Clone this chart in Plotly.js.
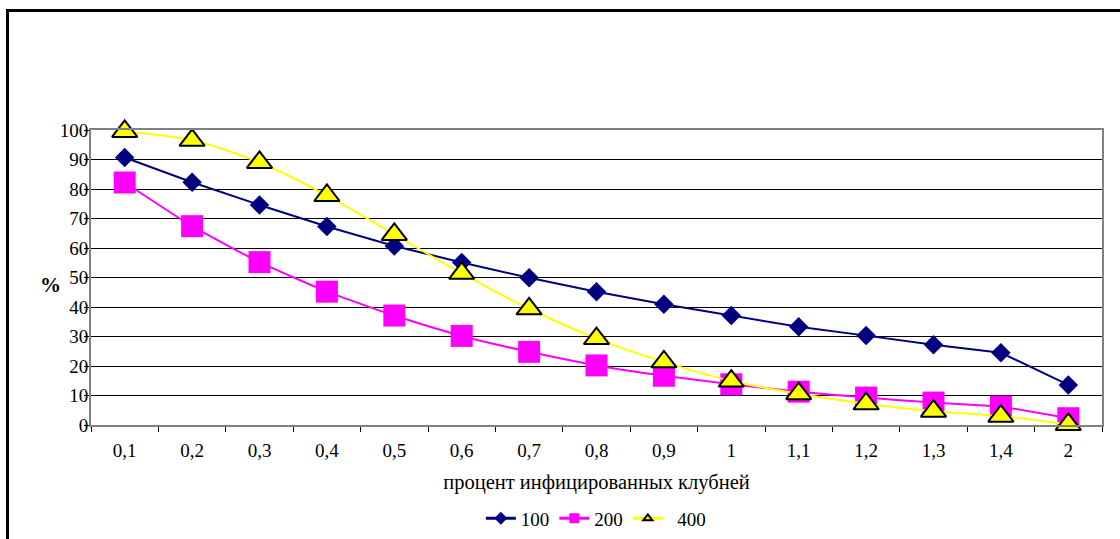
<!DOCTYPE html>
<html>
<head>
<meta charset="utf-8">
<script src="https://cdn.plot.ly/plotly-3.0.1.min.js"></script>
<style>
html,body{margin:0;padding:0;background:#fff;overflow:hidden;}
#wrap{position:relative;width:1120px;height:539px;}
#chart{width:1120px;height:539px;}
#frame{position:absolute;left:6px;top:9px;width:1200px;height:700px;border:3px solid #000;pointer-events:none;box-sizing:border-box;}
</style>
</head>
<body>
<div id="wrap"><div id="chart"></div><div id="frame"></div></div>
<script>
var categories = ['0,1','0,2','0,3','0,4','0,5','0,6','0,7','0,8','0,9','1','1,1','1,2','1,3','1,4','2'];
var series100 = [90.7, 82.3, 74.6, 67.3, 60.7, 55.1, 49.9, 45.2, 40.9, 37.1, 33.3, 30.3, 27.2, 24.5, 13.6];
var series200 = [82.2, 67.4, 55.2, 45.2, 37.1, 30.2, 24.8, 20.2, 16.7, 13.8, 11.3, 9.3, 7.6, 6.2, 2.3];
var series400 = [99.5, 96.5, 89.0, 77.8, 64.6, 51.4, 39.4, 29.3, 21.4, 14.9, 10.6, 7.2, 4.7, 3.0, 0.2];
var seriesNames = ['100', '200', '400'];
var yTicks = [0,10,20,30,40,50,60,70,80,90,100];

var FONT = 'Liberation Serif';

var traces = [
  {x: categories, y: series100, name: seriesNames[0], type: 'scatter', mode: 'lines+markers', cliponaxis: false,
   line: {color: '#000080', width: 2}, marker: {symbol: 'diamond', size: 15, color: '#000080'}, showlegend: false},
  {x: categories, y: series200, name: seriesNames[1], type: 'scatter', mode: 'lines+markers', cliponaxis: false,
   line: {color: '#FF00FF', width: 2, shape: 'spline', smoothing: 0.5}, marker: {symbol: 'square', size: 22, color: '#FF00FF'}, showlegend: false},
  {x: categories, y: series400, name: seriesNames[2], type: 'scatter', mode: 'lines+markers', cliponaxis: false,
   line: {color: '#FFFF00', width: 2, shape: 'spline', smoothing: 0.8},
   marker: {symbol: 'triangle-up', size: 22, color: '#FFFF00', line: {color: '#000', width: 2}}, showlegend: false},
  {x: [null], y: [null], name: seriesNames[0], type: 'scatter', mode: 'lines+markers',
   line: {color: '#000080', width: 3}, marker: {symbol: 'diamond', size: 10, color: '#000080'}},
  {x: [null], y: [null], name: seriesNames[1], type: 'scatter', mode: 'lines+markers',
   line: {color: '#FF00FF', width: 3}, marker: {symbol: 'square', size: 10, color: '#FF00FF'}},
  {x: [null], y: [null], name: '\u00a0\u00a0' + seriesNames[2], type: 'scatter', mode: 'lines+markers',
   line: {color: '#FFFF00', width: 3}, marker: {symbol: 'triangle-up', size: 8, color: '#FFFF00', line: {color: '#000', width: 2}}}
];

var layout = {
  width: 1120, height: 539,
  margin: {l: 91, r: 18, t: 130, b: 114, autoexpand: false},
  paper_bgcolor: '#fff', plot_bgcolor: '#fff',
  font: {family: FONT, color: '#000', size: 18},
  xaxis: {
    type: 'category', categoryorder: 'array', categoryarray: categories,
    range: [-0.5, 14.5],
    showgrid: false, zeroline: false,
    showline: true, linecolor: '#808080', linewidth: 2, mirror: true,
    ticks: 'outside', tickson: 'boundaries', ticklen: 5, tickcolor: '#000', tickwidth: 1,
    ticklabelstandoff: 7,
    tickfont: {family: FONT, size: 19, color: '#000'},
    title: {text: 'процент инфицированных клубней', font: {family: FONT, size: 20.5, color: '#000'}, standoff: 15}
  },
  yaxis: {
    range: [0, 100], tickvals: yTicks, ticktext: yTicks.map(String),
    showgrid: true, gridcolor: '#000', gridwidth: 1, zeroline: false,
    showline: true, linecolor: '#808080', linewidth: 2, mirror: true,
    ticks: 'outside', ticklen: 5, tickcolor: '#000', tickwidth: 1,
    ticklabelstandoff: -8,
    tickfont: {family: FONT, size: 19, color: '#000'}
  },
  legend: {
    orientation: 'h', x: 0.532, xref: 'container', xanchor: 'center',
    y: 0.038, yref: 'container', yanchor: 'middle',
    font: {family: FONT, size: 19, color: '#000'},
    itemwidth: 30, tracegroupgap: 0, bgcolor: 'rgba(0,0,0,0)'
  },
  annotations: [
    {text: '<b>%</b>', xref: 'paper', yref: 'paper', x: -0.0396, y: 0.475, xanchor: 'center', yanchor: 'middle',
     showarrow: false, font: {family: FONT, size: 21, color: '#000'}}
  ]
};

Plotly.newPlot('chart', traces, layout, {displayModeBar: false, staticPlot: true});
</script>
</body>
</html>
